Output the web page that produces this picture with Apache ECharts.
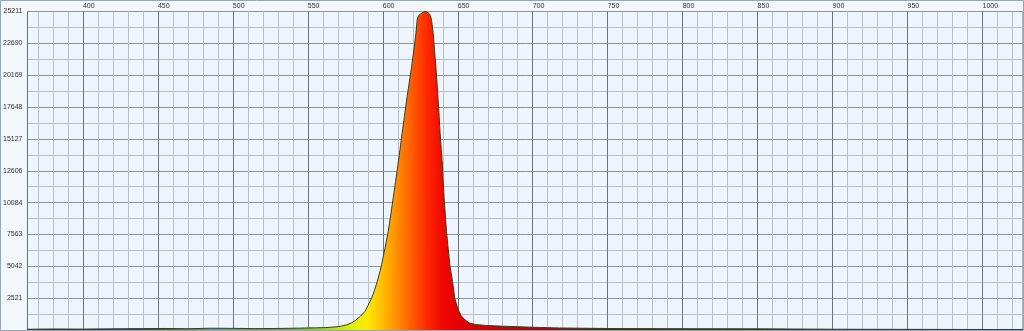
<!DOCTYPE html>
<html>
<head>
<meta charset="utf-8">
<script src="https://cdn.jsdelivr.net/npm/echarts@6/dist/echarts.min.js"></script>
<style>
html,body{margin:0;padding:0;background:#f2f7fc;}
#c{width:1024px;height:331px;}
</style>
</head>
<body>
<div id="c"></div>
<script>
// Wavelength (nm) of each sample point
const wavelengths = [363, 380, 400, 420, 440, 455, 470, 485, 500, 515, 530, 545, 555, 562, 568, 572, 576, 579, 582, 585, 588, 590, 592.5, 594.5, 596.3, 598, 599.2, 601.5, 603.6, 605.3, 606.9, 608.5, 610.1, 611.5, 612.9, 614.4, 615.9, 617.6, 619.2, 620.7, 622.1, 622.9, 623.6, 625, 626.5, 628.7, 630.5, 631.8, 632.5, 633.6, 634.5, 635.4, 636.2, 636.9, 637.6, 638.2, 639, 639.8, 640.3, 640.9, 641.7, 642.5, 643.6, 644.7, 645.6, 646.5, 647.3, 648.0, 649.5, 650.9, 652.2, 653.6, 655.8, 658.0, 662, 669.2, 680, 691, 705, 718, 740, 760, 800, 850, 900, 950, 1000, 1027];
// Intensity (counts) at each wavelength
const intensities = [60, 80, 70, 90, 110, 120, 100, 140, 130, 110, 120, 150, 170, 190, 240, 300, 411, 560, 780, 1080, 1460, 1900, 2520, 3150, 3840, 4600, 5160, 6480, 7790, 9100, 10430, 11750, 13070, 14300, 15600, 16900, 18200, 19550, 20840, 22150, 23480, 24530, 24850, 25000, 25130, 25211, 25080, 24850, 24530, 23480, 22150, 20840, 19500, 18200, 16900, 15600, 14300, 13000, 11700, 10430, 9100, 7790, 6450, 5160, 4500, 3840, 3150, 2520, 1900, 1460, 1150, 940, 720, 546, 430, 356, 300, 253, 200, 160, 130, 110, 100, 90, 60, 50, 40, 40];
// Axis settings
const xMin = 363, xMax = 1027;
const yMax = 25211, yStep = 2521.1;

// Spectral fill colour stops (nm -> colour)
const spectrumNm = [363, 400, 430, 450, 470, 490, 505, 525, 550, 570, 582, 590, 600, 610, 620, 630, 640, 650, 665, 700, 760, 820, 1027];
const spectrumCol = ['#5a0090', '#3a10d0', '#2030ff', '#0050ff', '#0090ff', '#00c8e0', '#00d890', '#20c840', '#70d800', '#c0e800', '#e8f000', '#ffe800', '#ffbc00', '#ff8c00', '#ff5a00', '#ff2800', '#f00800', '#e60000', '#d80000', '#c00000', '#701010', '#303030', '#303030'];

const gridL = 27, gridR = 1023, gridT = 11.5, gridB = 330;
const chart = echarts.init(document.getElementById('c'));
const data = wavelengths.map((w, i) => [w, intensities[i]]);
const stops = spectrumNm.map((n, i) => ({offset: (n - xMin) / (xMax - xMin), color: spectrumCol[i]}));

chart.setOption({
  animation: false,
  backgroundColor: '#f2f7fc',
  grid: {left: gridL, right: 1024 - gridR, top: gridT, bottom: 331 - gridB, show: true, backgroundColor: '#eef5fc', borderColor: '#6b737c', borderWidth: 1},
  graphic: [{type: 'rect', shape: {x: 0.5, y: 0.5, width: 1023, height: 330}, style: {fill: 'none', stroke: '#9aa6b2', lineWidth: 1}, silent: true, z: 100}],
  xAxis: {
    type: 'value', position: 'top', min: xMin, max: xMax, splitNumber: 13,
    axisLine: {show: false}, axisTick: {show: false},
    axisLabel: {fontSize: 7, color: '#333', fontFamily: 'Liberation Sans, Arial, sans-serif', align: 'left', margin: 2, showMinLabel: false, showMaxLabel: false, formatter: v => String(Math.round(v))},
    splitLine: {show: true, lineStyle: {color: '#6b737c', width: 1}},
    minorTick: {show: false, splitNumber: 5},
    minorSplitLine: {show: true, lineStyle: {color: '#b8c2cd', width: 1}}
  },
  yAxis: {
    type: 'value', min: 0, max: yMax, interval: yStep,
    axisLine: {show: false}, axisTick: {show: false},
    axisLabel: {fontSize: 7, color: '#333', fontFamily: 'Liberation Sans, Arial, sans-serif', margin: 5, showMinLabel: false, formatter: v => String(Math.round(v))},
    splitLine: {show: true, lineStyle: {color: '#8a95a1', width: 1}},
    minorTick: {show: false, splitNumber: 2},
    minorSplitLine: {show: true, lineStyle: {color: '#b8c2cd', width: 1}}
  },
  series: [{
    type: 'line', data: data, showSymbol: false, smooth: false,
    lineStyle: {color: '#3c3c1c', width: 1},
    areaStyle: {opacity: 1, color: new echarts.graphic.LinearGradient(gridL, 0, gridR, 0, stops, true)}
  }]
});
</script>
</body>
</html>
